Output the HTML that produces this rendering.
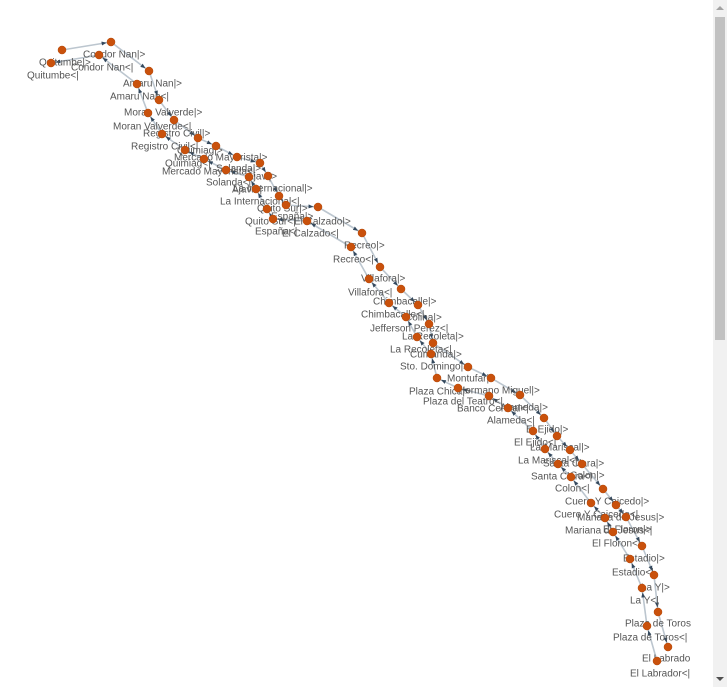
<!DOCTYPE html>
<html><head><meta charset="utf-8">
<style>
html,body{margin:0;padding:0;background:#fff;width:727px;height:687px;overflow:hidden;font-family:"Liberation Sans",Arial,sans-serif;}
#sb{position:absolute;left:713px;top:0;width:14px;height:687px;background:#f1f1f1;}
#thumb{position:absolute;left:715px;top:17px;width:10px;height:323px;background:#c1c1c1;}
.arr{position:absolute;left:716px;width:0;height:0;border-left:4px solid transparent;border-right:4px solid transparent;}
svg{position:absolute;left:0;top:0;}
text{font-size:10px;fill:#555;}
</style></head><body>
<div id="sb"></div>
<div id="thumb"></div>
<div class="arr" style="top:6px;border-bottom:4px solid #a3a3a3"></div>
<div class="arr" style="top:677px;border-top:4px solid #505050"></div>
<svg id="g" width="691" height="687">
<defs><marker id="ah" viewBox="0 0 10 10" refX="19" refY="5" markerUnits="userSpaceOnUse" markerWidth="5" markerHeight="5" orient="auto"><path d="M0,1L10,5L0,9z" fill="#34495e"/></marker></defs>
</svg>
<script>
const outX=[62,111,149,159,174,198,216,237,260,268,279,286,318,362,380,401,418,429,433,468,491,520,544,557,570,582,603,616,626,642,654,658,668];
const outY=[50,42,71,100,120,138,146,157,163,176,196,205,207,233,267,289,305,324,343,367,378,395,418,436,450,464,489,505,517,546,575,612,647];
const inX=[657,647,642,630,613,605,591,571,558,545,533,508,489,458,437,431,417,406,389,369,351,307,273,267,256,249,226,204,185,162,148,137,99,51];
const inY=[661,626,588,559,532,518,503,477,464,449,431,408,396,388,378,354,337,317,303,279,247,221,219,209,189,177,170,159,150,134,113,84,55,63];
const labels=["Condor Nan|>","Quitumbe|>","Condor Nan<|","Quitumbe<|","Amaru Nan|>","Amaru Nan<|","Moran Valverde|>","Moran Valverde<|","Registro Civil|>","Registro Civil<|","Quimiag|>","Mercado Mayorista|>","Quimiag<|","Solanda|>","Mercado Mayorista<|","Ajavi|>","Solanda<|","La Internacional|>","Ajavi<|","La Internacional<|","Quito Sur|>","España|>","Quito Sur<|","El Calzado|>","España<|","El Calzado<|","Recreo|>","Recreo<|","Villafora|>","Villafora<|","Chimbacalle|>","Chimbacalle<|","Colina|>","Jefferson Perez<|","La Recoleta|>","La Recoleta<|","Cumanda|>","Sto. Domingo|>","Montufar|>","Plaza Chica|>","Hermano Miguel|>","Plaza del Teatro<|","Banco Central<|","Alameda|>","Alameda<|","El Ejido|>","El Ejido<|","La Mariscal|>","La Mariscal<|","Santa Clara|>","Santa Clara<|","Colon|>","Colon<|","Cuero Y Caicedo|>","Cuero Y Caicedo<|","Mariana de Jesus|>","Mariana de Jesus<|","El Floron|>","El Floron<|","Estadio|>","Estadio<|","La Y|>","La Y<|","Plaza de Toros|>","Plaza de Toros<|","El Labrador|>","El Labrador<|"];
const labelX=[83,39,71,27,123,110,124,113,143,131,177,174,165,216,162,247,206,233,232,220,257,271,245,294,255,282,344,333,361,348,373,361,405,370,402,390,410,400,447,409,458,423,457,500,487,526,514,530,518,543,531,570,555,565,554,577,565,603,592,623,612,641,630,625,613,642,630];
const labelY=[54,62,67,75,83,96,112,126,133,146,150,157,163,168,171,176,182,188,189,201,208,216,221,221,231,233,245,259,278,292,301,314,317,328,336,349,354,366,378,391,390,401,408,407,420,429,442,447,460,463,476,475,488,501,514,517,530,529,543,558,572,587,600,623,637,658,673];
const svg=document.getElementById('g');
const NS='http://www.w3.org/2000/svg';
function chain(xs,ys,nm){
  for(let i=0;i<xs.length-1;i++){
    const l=document.createElementNS(NS,'line');
    l.setAttribute('x1',xs[i]);l.setAttribute('y1',ys[i]);l.setAttribute('x2',xs[i+1]);l.setAttribute('y2',ys[i+1]);
    l.setAttribute('stroke','#bcc6cf');l.setAttribute('stroke-width','1.6');l.setAttribute('marker-end','url(#ah)');
    
    
    svg.appendChild(l);
  }
}
chain(outX,outY,'outbound');
chain(inX,inY,'inbound');
for(let i=0;i<labels.length;i++){
  const t=document.createElementNS(NS,'text');
  t.setAttribute('x',labelX[i]);t.setAttribute('y',labelY[i]+3.5);
  t.textContent=labels[i];
  
  
  svg.appendChild(t);
}
function dots(xs,ys,nm){
  for(let i=0;i<xs.length;i++){
    const c=document.createElementNS(NS,'circle');
    c.setAttribute('cx',xs[i]);c.setAttribute('cy',ys[i]);c.setAttribute('r','4');
    c.setAttribute('fill','#c9510c');c.setAttribute('stroke','#b34708');c.setAttribute('stroke-width','0.5');
    
    
    svg.appendChild(c);
  }
}
dots(outX,outY,'outbound');
dots(inX,inY,'inbound');
</script>
</body></html>
